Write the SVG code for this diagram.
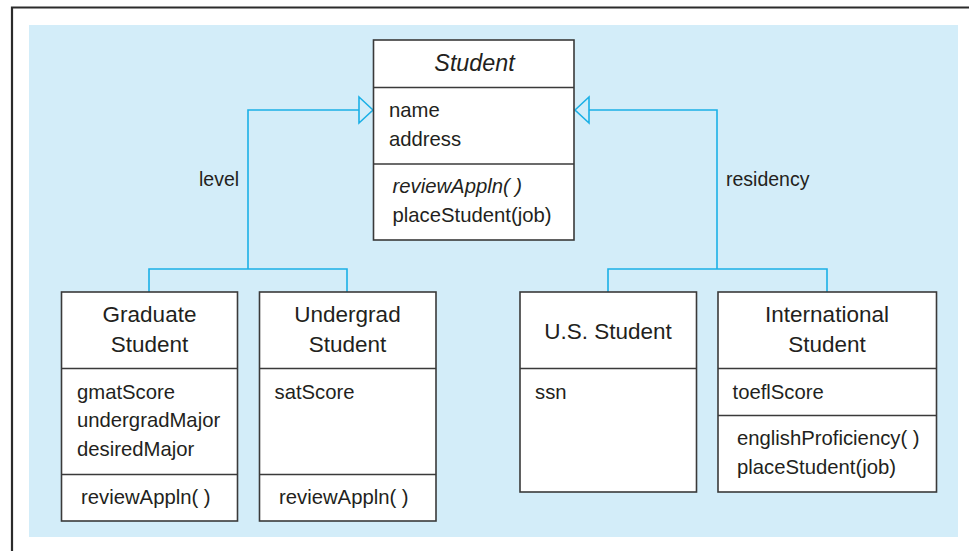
<svg xmlns="http://www.w3.org/2000/svg" width="969" height="551" viewBox="0 0 969 551">
<style>
.box{fill:#fff;stroke:#3a3a3a;stroke-width:1.6}
.div{stroke:#3a3a3a;stroke-width:1.6}
.conn{fill:none;stroke:#1bb0e6;stroke-width:1.6}
.head{fill:#d3edf9;stroke:#1bb0e6;stroke-width:1.6;stroke-linejoin:miter}
text{font-family:"Liberation Sans",Arial,Helvetica,sans-serif;fill:#231f20}
.t{font-size:22.5px;text-anchor:middle}
.a{font-size:20.3px}
.i{font-style:italic}
.l{font-size:19.5px}
</style>
<rect x="0" y="0" width="969" height="551" fill="#fff"/>
<path d="M12,551 V7.5 H969" fill="none" stroke="#2b2b2b" stroke-width="2.2"/>
<rect x="29" y="25" width="929" height="512" fill="#d3edf9"/>

<g id="connectors">
  <path class="conn" d="M149,292 V269 H347 V292 M248,269 V110 H359"/>
  <polygon class="head" points="373,110 359,97 359,123"/>
  <path class="conn" d="M608,292 V269 H827 V292 M717,269 V110 H589"/>
  <polygon class="head" points="575,110 589,97 589,123"/>
  <text class="l" x="199" y="186">level</text>
  <text class="l" x="726" y="186">residency</text>
</g>

<g id="student">
  <rect class="box" x="373.5" y="40" width="200.5" height="200"/>
  <line class="div" x1="373.5" y1="87.5" x2="574" y2="87.5"/>
  <line class="div" x1="373.5" y1="164" x2="574" y2="164"/>
  <text class="t i" x="474.5" y="71" style="font-size:23.3px">Student</text>
  <text class="a" x="389" y="117">name</text>
  <text class="a" x="389" y="146">address</text>
  <text class="a i" x="392.5" y="193">reviewAppln( )</text>
  <text class="a" x="392.5" y="221.5">placeStudent(job)</text>
</g>

<g id="graduate">
  <rect class="box" x="61.5" y="292" width="176" height="229"/>
  <line class="div" x1="61.5" y1="368.5" x2="237.5" y2="368.5"/>
  <line class="div" x1="61.5" y1="474.5" x2="237.5" y2="474.5"/>
  <text class="t" x="149.5" y="322">Graduate</text>
  <text class="t" x="149.5" y="352">Student</text>
  <text class="a" x="77" y="398.5">gmatScore</text>
  <text class="a" x="77" y="427">undergradMajor</text>
  <text class="a" x="77" y="455.5">desiredMajor</text>
  <text class="a" x="81" y="503.5">reviewAppln( )</text>
</g>

<g id="undergrad">
  <rect class="box" x="259.5" y="292" width="176.5" height="229"/>
  <line class="div" x1="259.5" y1="368.5" x2="436" y2="368.5"/>
  <line class="div" x1="259.5" y1="474.5" x2="436" y2="474.5"/>
  <text class="t" x="347.5" y="322">Undergrad</text>
  <text class="t" x="347.5" y="352">Student</text>
  <text class="a" x="274.5" y="398.5">satScore</text>
  <text class="a" x="279" y="503.5">reviewAppln( )</text>
</g>

<g id="usstudent">
  <rect class="box" x="520" y="292" width="176.5" height="200"/>
  <line class="div" x1="520" y1="368.5" x2="696.5" y2="368.5"/>
  <text class="t" x="608" y="339">U.S. Student</text>
  <text class="a" x="535" y="398.5">ssn</text>
</g>

<g id="international">
  <rect class="box" x="718" y="292" width="218.5" height="200"/>
  <line class="div" x1="718" y1="368.5" x2="936.5" y2="368.5"/>
  <line class="div" x1="718" y1="415.5" x2="936.5" y2="415.5"/>
  <text class="t" x="827" y="322">International</text>
  <text class="t" x="827" y="352">Student</text>
  <text class="a" x="732.5" y="398.5">toeflScore</text>
  <text class="a" x="737" y="445">englishProficiency( )</text>
  <text class="a" x="737" y="474">placeStudent(job)</text>
</g>
</svg>
